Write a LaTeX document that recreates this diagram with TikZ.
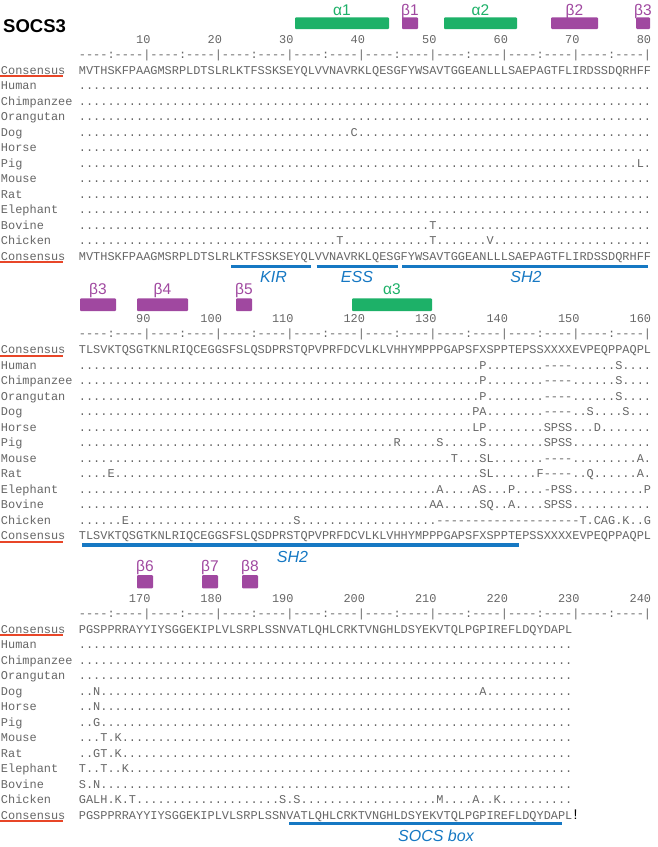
\documentclass[tikz,border=0pt]{standalone}
\usepackage{fontspec}
\setmainfont{Liberation Sans}
\newfontfamily\seqfont{Liberation Mono}[Ligatures=TeXOff]
\definecolor{ssgreen}{HTML}{1DB168}
\definecolor{sspurple}{HTML}{A048A0}
\definecolor{domblue}{HTML}{1678C3}
\definecolor{consred}{HTML}{E84628}
\definecolor{seqgray}{HTML}{666666}
\ExplSyntaxOn
\cs_new:Npn \seqrep #1#2 { \prg_replicate:nn {#1} {#2} }
\ExplSyntaxOff
\newcommand\pd[1]{\seqrep{#1}{.}}
\newcommand\gp[1]{\seqrep{#1}{-}}
% species names, underlines and ruler of one block: #1 id, #2 baseline of first row
\newcommand\blockframe[2]{%
  \foreach \nm [count=\i from 0] in {Consensus,Human,Chimpanzee,Orangutan,Dog,Horse,Pig,Mouse,Rat,Elephant,Bovine,Chicken,Consensus}
    {\node[seq] (name#1-\i) at (1,{#2+15.5*\i}) {\nm};}
  \draw[consline] ([xshift=-1pt,yshift=-2.2pt]name#1-0.base west) -- ([xshift=-2pt,yshift=-2.2pt]name#1-0.base east);
  \draw[consline] ([xshift=-1pt,yshift=-2.2pt]name#1-12.base west) -- ([xshift=-2pt,yshift=-2.2pt]name#1-12.base east);
  \node[seq] (ruler#1) at (78.9,{#2-16}) {\seqrep{8}{----:----|}};
}
% number line: #1 id, #2 baseline of first row, #3 offset
\newcommand\numline[3]{%
  \foreach \k in {1,...,8}{%
    \pgfmathtruncatemacro\lab{10*\k+#3}%
    \node[num] (num#1-\k) at ({78.9+71.52*\k},{#2-31}) {\lab};
  }}
% sequence row: #1 id, #2 baseline, #3 index, #4 content
\newcommand\sq[4]{\node[seq] (seq#1-#3) at (78.9,{#2+15.5*#3}) {#4};}
\begin{document}
\begin{tikzpicture}[x=1pt,y=-1pt,
  seq/.style={anchor=base west,inner sep=0pt,outer sep=0pt,text=seqgray,font=\seqfont\fontsize{11.92}{13}\selectfont},
  num/.style={seq,anchor=base east},
  alphabar/.style={fill=ssgreen,rounded corners=1pt},
  betabar/.style={fill=sspurple,rounded corners=1pt},
  alphalab/.style={anchor=base,inner sep=0pt,text=ssgreen,font=\fontsize{15.5}{16}\selectfont},
  betalab/.style={alphalab,text=sspurple},
  domline/.style={draw=domblue,line width=3.5pt},
  domlab/.style={anchor=base,inner sep=0pt,text=domblue,font=\itshape\fontsize{16}{18}\selectfont},
  consline/.style={draw=consred,line width=1.8pt}]

\fill[white] (0,0) rectangle (657,847);
\useasboundingbox (0,0) rectangle (657,847);

\node[anchor=base west,inner sep=0pt,font=\bfseries\fontsize{18.5}{20}\selectfont] (title) at (3,32.3) {SOCS3};

% ---------------- Block 1 ----------------
\fill[alphabar] (295,17.3) rectangle (389,29);
\fill[betabar] (402,17.3) rectangle (418,29);
\fill[alphabar] (444,17.3) rectangle (517,29);
\fill[betabar] (551,17.3) rectangle (598,29);
\fill[betabar] (636,17.3) rectangle (650,29);
\node[alphalab] (a1) at (342,15) {α1};
\node[betalab] (b1) at (410,15) {β1};
\node[alphalab] (a2) at (480.5,15) {α2};
\node[betalab] (b2) at (574.5,15) {β2};
\node[betalab] (b3top) at (643,15) {β3};

\numline{1}{74}{0}
\blockframe{1}{74}
\sq{1}{74}{0}{MVTHSKFPAAGMSRPLDTSLRLKTFSSKSEYQLVVNAVRKLQESGFYWSAVTGGEANLLLSAEPAGTFLIRDSSDQRHFF}
\sq{1}{74}{1}{\pd{80}}
\sq{1}{74}{2}{\pd{80}}
\sq{1}{74}{3}{\pd{80}}
\sq{1}{74}{4}{\pd{38}C\pd{41}}
\sq{1}{74}{5}{\pd{80}}
\sq{1}{74}{6}{\pd{78}L.}
\sq{1}{74}{7}{\pd{80}}
\sq{1}{74}{8}{\pd{80}}
\sq{1}{74}{9}{\pd{80}}
\sq{1}{74}{10}{\pd{49}T\pd{30}}
\sq{1}{74}{11}{\pd{36}T\pd{12}T\pd{7}V\pd{22}}
\sq{1}{74}{12}{MVTHSKFPAAGMSRPLDTSLRLKTFSSKSEYQLVVNAVRKLQESGFYWSAVTGGEANLLLSAEPAGTFLIRDSSDQRHFF}

\path[domline] (231,266.3) -- (311,266.3);
\path[domline] (316.7,266.3) -- (397.7,266.3);
\path[domline] (402.3,266.3) -- (647.7,266.3);
\node[domlab] (kir) at (273.5,282.5) {KIR};
\node[domlab] (ess) at (357,282.5) {ESS};
\node[domlab] (sh2a) at (526,282.5) {SH2};

% ---------------- Block 2 ----------------
\fill[betabar] (80,298.3) rectangle (116,311);
\fill[betabar] (137,298.3) rectangle (188,311);
\fill[betabar] (236,298.3) rectangle (252,311);
\fill[alphabar] (352,298.3) rectangle (432,311);
\node[betalab] (b3) at (98,294.3) {β3};
\node[betalab] (b4) at (162.5,294.3) {β4};
\node[betalab] (b5) at (244,294.3) {β5};
\node[alphalab] (a3) at (392,294.3) {α3};

\numline{2}{353.5}{80}
\blockframe{2}{353.5}
\sq{2}{353.5}{0}{TLSVKTQSGTKNLRIQCEGGSFSLQSDPRSTQPVPRFDCVLKLVHHYMPPPGAPSFXSPPTEPSSXXXXEVPEQPPAQPL}
\sq{2}{353.5}{1}{\pd{56}P\pd{8}\gp{4}\pd{6}S\pd{4}}
\sq{2}{353.5}{2}{\pd{56}P\pd{8}\gp{4}\pd{6}S\pd{4}}
\sq{2}{353.5}{3}{\pd{56}P\pd{8}\gp{4}\pd{6}S\pd{4}}
\sq{2}{353.5}{4}{\pd{55}PA\pd{8}\gp{4}\pd{2}S\pd{4}S\pd{3}}
\sq{2}{353.5}{5}{\pd{55}LP\pd{8}SPSS\pd{3}D\pd{7}}
\sq{2}{353.5}{6}{\pd{44}R\pd{5}S\pd{5}S\pd{8}SPSS\pd{11}}
\sq{2}{353.5}{7}{\pd{52}T\pd{3}SL\pd{7}\gp{4}\pd{9}A.}
\sq{2}{353.5}{8}{\pd{4}E\pd{51}SL\pd{6}F\gp{4}\pd{2}Q\pd{6}A.}
\sq{2}{353.5}{9}{\pd{50}A\pd{4}AS\pd{3}P\pd{4}-PSS\pd{10}P}
\sq{2}{353.5}{10}{\pd{49}AA\pd{5}SQ\pd{2}A\pd{4}SPSS\pd{11}}
\sq{2}{353.5}{11}{\pd{6}E\pd{23}S\pd{19}\gp{20}T.CAG.K..G}
\sq{2}{353.5}{12}{TLSVKTQSGTKNLRIQCEGGSFSLQSDPRSTQPVPRFDCVLKLVHHYMPPPGAPSFXSPPTEPSSXXXXEVPEQPPAQPL}

\path[domline] (82,545) -- (519,545);
\node[domlab] (sh2b) at (292.5,562) {SH2};

% ---------------- Block 3 ----------------
\fill[betabar] (137,575) rectangle (153,588.3);
\fill[betabar] (202,575) rectangle (218,588.3);
\fill[betabar] (242,575) rectangle (258,588.3);
\node[betalab] (b6) at (145,571.7) {β6};
\node[betalab] (b7) at (210,571.7) {β7};
\node[betalab] (b8) at (250,571.7) {β8};

\numline{3}{633}{160}
\blockframe{3}{633}
\sq{3}{633}{0}{PGSPPRRAYYIYSGGEKIPLVLSRPLSSNVATLQHLCRKTVNGHLDSYEKVTQLPGPIREFLDQYDAPL}
\sq{3}{633}{1}{\pd{69}}
\sq{3}{633}{2}{\pd{69}}
\sq{3}{633}{3}{\pd{69}}
\sq{3}{633}{4}{..N\pd{53}A\pd{12}}
\sq{3}{633}{5}{..N\pd{66}}
\sq{3}{633}{6}{..G\pd{66}}
\sq{3}{633}{7}{...T.K\pd{63}}
\sq{3}{633}{8}{..GT.K\pd{63}}
\sq{3}{633}{9}{T..T..K\pd{62}}
\sq{3}{633}{10}{S.N\pd{66}}
\sq{3}{633}{11}{GALH.K.T\pd{20}S.S\pd{19}M\pd{4}A..K\pd{10}}
\sq{3}{633}{12}{PGSPPRRAYYIYSGGEKIPLVLSRPLSSNVATLQHLCRKTVNGHLDSYEKVTQLPGPIREFLDQYDAPL}
\node[anchor=base,inner sep=0pt,font=\fontsize{14}{14}\selectfont] (bang) at (575.5,819) {!};

\path[domline] (289,823.7) -- (562,823.7);
\node[domlab] (socsbox) at (436,841.5) {SOCS box};
\end{tikzpicture}
\end{document}
